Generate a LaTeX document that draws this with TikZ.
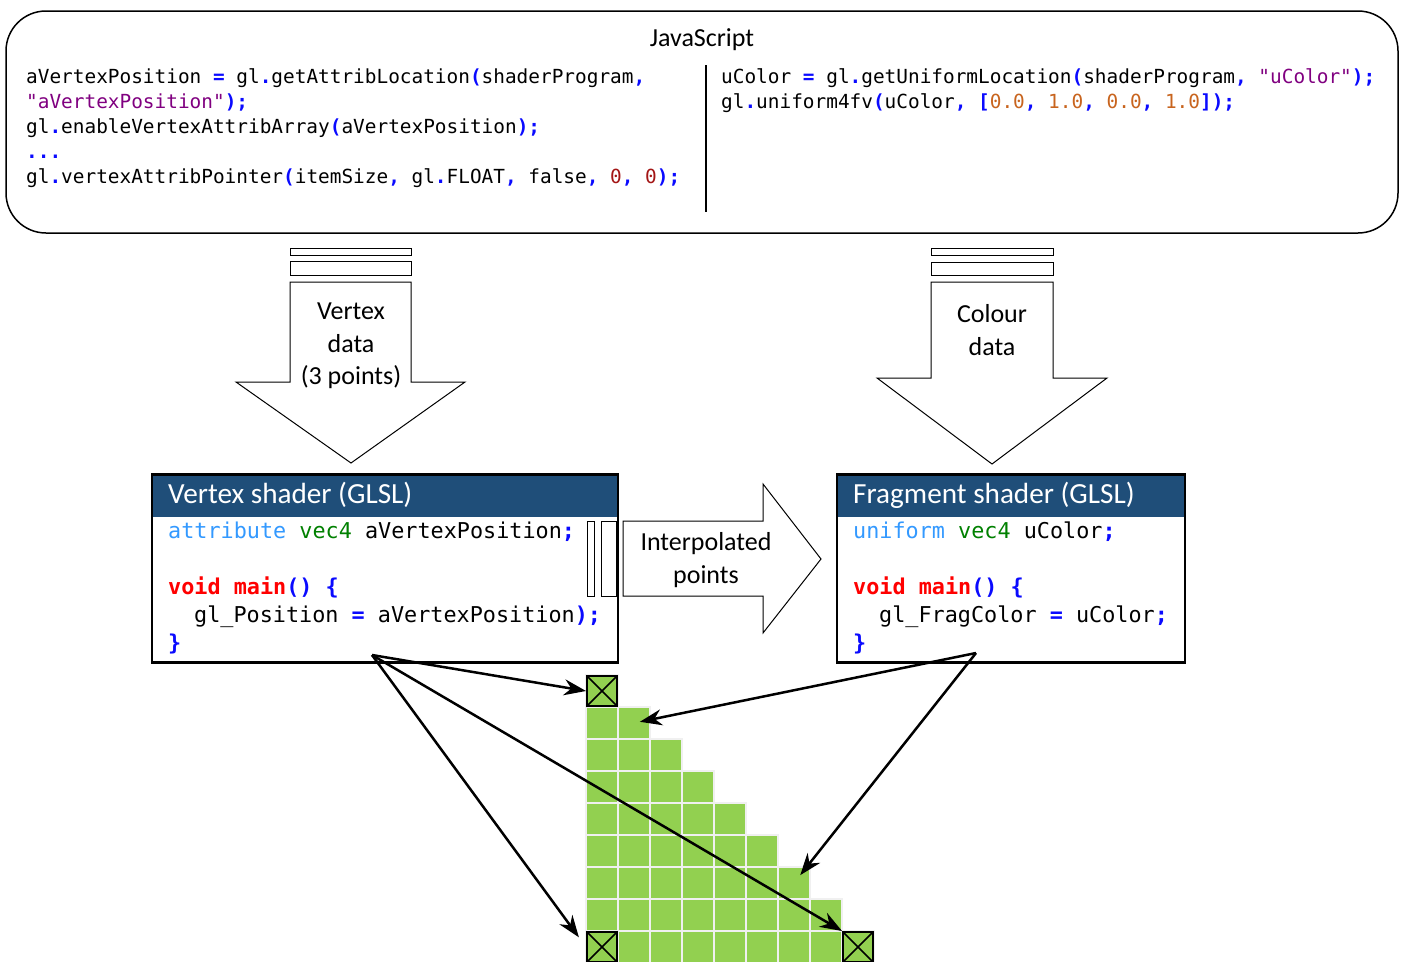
\documentclass[tikz,border=0pt]{standalone}
\usepackage{fontspec}
\usepackage{xcolor}
\usepackage{tikz}
\usetikzlibrary{positioning,arrows.meta,calc}
\newfontfamily\calfont{Carlito}
\newfontfamily\codefont{DejaVu Sans Mono}[Ligatures=TeXOff]
\definecolor{cpunc}{RGB}{10,10,255}
\definecolor{cstring}{RGB}{128,0,128}
\definecolor{czero}{RGB}{163,21,21}
\definecolor{cnum}{RGB}{200,100,30}
\definecolor{ckey}{RGB}{51,153,255}
\definecolor{ctype}{RGB}{0,128,0}
\definecolor{cvoid}{RGB}{255,0,0}
\definecolor{headblue}{RGB}{31,78,121}
\definecolor{pixgreen}{RGB}{146,208,80}
\definecolor{pixgrey}{RGB}{240,240,240}
\newcommand{\pnc}[1]{\textcolor{cpunc}{\bfseries #1}}
\newcommand{\strg}[1]{\textcolor{cstring}{#1}}
\newcommand{\zro}[1]{\textcolor{czero}{#1}}
\newcommand{\nmb}[1]{\textcolor{cnum}{#1}}
\newcommand{\kwd}[1]{\textcolor{ckey}{#1}}
\newcommand{\typ}[1]{\textcolor{ctype}{#1}}
\newcommand{\vdm}[1]{\textcolor{cvoid}{\bfseries #1}}
\tikzset{
  jsbox/.style={draw,rounded corners=40pt,line width=1.5pt,minimum width=1392pt,minimum height=222pt},
  jscode/.style={anchor=base west,inner sep=0pt,font=\codefont\fontsize{19.4pt}{25pt}\selectfont},
  glsl/.style={anchor=base west,inner sep=0pt,font=\codefont\fontsize{21.8pt}{28pt}\selectfont},
  blocktext/.style={align=center,inner sep=0pt,font=\calfont\fontsize{26pt}{32.5pt}\selectfont},
  blockarrow/.style={draw,fill=white,line width=1pt},
  shader/.style={draw,line width=2.5pt,minimum height=188pt,anchor=north,inner sep=0pt},
  shaderbar/.style={fill=headblue,minimum height=44pt,anchor=north,inner sep=0pt},
  shaderhead/.style={anchor=base west,inner sep=0pt,text=white,font=\calfont\fontsize{29.2pt}{31pt}\selectfont},
  pixel/.style={draw=pixgrey,fill=pixgreen,line width=2pt,minimum size=32pt,inner sep=0pt},
  vertexpix/.style={pixel,draw=black,minimum size=30pt,
    path picture={\draw[line width=1.5pt] (path picture bounding box.north west) -- (path picture bounding box.south east)
      (path picture bounding box.north east) -- (path picture bounding box.south west);}},
  arrow/.style={-{Stealth[length=22pt,width=16pt]},line width=2.5pt}
}

\begin{document}
\begin{tikzpicture}[x=1pt,y=-1pt]
  \useasboundingbox (0,0) rectangle (1402,961);

  \node[jsbox] (js) at (702,122) {};
  \node[font=\calfont\fontsize{26pt}{30pt}\selectfont] (jstitle) at (702,40) {JavaScript};
  \node[jscode] (js1) at (26,83) {aVertexPosition \pnc{=} gl\pnc{.}getAttribLocation\pnc{(}shaderProgram\pnc{,}};
  \node[jscode] (js2) at (26,108) {\strg{"aVertexPosition"}\pnc{);}};
  \node[jscode] (js3) at (26,133) {gl\pnc{.}enableVertexAttribArray\pnc{(}aVertexPosition\pnc{);}};
  \node[jscode] (js4) at (26,158) {\pnc{...}};
  \node[jscode] (js5) at (26,183) {gl\pnc{.}vertexAttribPointer\pnc{(}itemSize\pnc{,} gl\pnc{.}FLOAT\pnc{,} false\pnc{,} \zro{0}\pnc{,} \zro{0}\pnc{);}};
  \draw[line width=2pt] (706,65) -- (706,212);
  \node[jscode] (uc1) at (721,83) {uColor \pnc{=} gl\pnc{.}getUniformLocation\pnc{(}shaderProgram\pnc{,} \strg{"uColor"}\pnc{);}};
  \node[jscode] (uc2) at (721,108) {gl\pnc{.}uniform4fv\pnc{(}uColor\pnc{,} \pnc{[}\nmb{0.0}\pnc{,} \nmb{1.0}\pnc{,} \nmb{0.0}\pnc{,} \nmb{1.0}\pnc{]);}};

  \draw[blockarrow] (290,248) rectangle (411,255);
  \draw[blockarrow] (290,261) rectangle (411,275);
  \draw[blockarrow] (290,282) -- (411,282) -- (411,382) -- (465,382) -- (351,463) -- (236,382) -- (290,382) -- cycle;
  \node[blocktext] (vdata) at (351,346) {Vertex\\data\\(3 points)};

  \draw[blockarrow] (931,248) rectangle (1053,255);
  \draw[blockarrow] (931,262) rectangle (1053,275);
  \draw[blockarrow] (931,282) -- (1053,282) -- (1053,378) -- (1107,378) -- (992,464) -- (877,378) -- (931,378) -- cycle;
  \node[blocktext] (cdata) at (992,330) {Colour\\data};

  \draw[blockarrow] (587,521) rectangle (594,596);
  \draw[blockarrow] (601,521) rectangle (616,596);
  \draw[blockarrow] (623,521) -- (763,521) -- (763,484) -- (821,559) -- (763,633) -- (763,596) -- (623,596) -- cycle;
  \node[blocktext] (interp) at (706,560) {Interpolated\\points};

  \node[shaderbar,minimum width=466pt] (vbar) at (385,473) {};
  \node[shader,minimum width=466pt] (vshader) at (385,473) {};
  \node[shaderhead] (vtitle) at (168,503) {Vertex shader (GLSL)};
  \node[glsl] (vs1) at (168,538) {\kwd{attribute} \typ{vec4} aVertexPosition\pnc{;}};
  \node[glsl] (vs2) at (168,594) {\vdm{void main}\pnc{() \{}};
  \node[glsl] (vs3) at (194,622) {gl\_Position \pnc{=} aVertexPosition\pnc{);}};
  \node[glsl] (vs4) at (168,650) {\pnc{\}}};

  \node[shaderbar,minimum width=348pt] (fbar) at (1011,473) {};
  \node[shader,minimum width=348pt] (fshader) at (1011,473) {};
  \node[shaderhead] (ftitle) at (853,503) {Fragment shader (GLSL)};
  \node[glsl] (fs1) at (853,538) {\kwd{uniform} \typ{vec4} uColor\pnc{;}};
  \node[glsl] (fs2) at (853,594) {\vdm{void main}\pnc{() \{}};
  \node[glsl] (fs3) at (879,622) {gl\_FragColor \pnc{=} uColor\pnc{;}};
  \node[glsl] (fs4) at (853,650) {\pnc{\}}};

  \foreach \rw in {0,...,8} {
    \foreach \cl in {0,...,\rw} {
      \node[pixel] (pix-\rw-\cl) at (602+32*\cl,691+32*\rw) {};
    }
  }
  \node[vertexpix] (vx1) at (pix-0-0) {};
  \node[vertexpix] (vx2) at (pix-8-0) {};
  \node[vertexpix] (vx3) at (pix-8-8) {};

  \coordinate (vout) at (372,655);
  \coordinate (fout) at (976,653);
  \draw[arrow] (vout) -- (vx1.west);
  \draw[arrow,shorten >=12pt] (vout) -- (vx2.west);
  \draw[arrow] (vout) -- (vx3.north west);
  \draw[arrow,shorten >=6pt] (fout) -- (pix-1-1.center);
  \draw[arrow,shorten >=10pt] (fout) -- (pix-6-6.center);
\end{tikzpicture}
\end{document}
